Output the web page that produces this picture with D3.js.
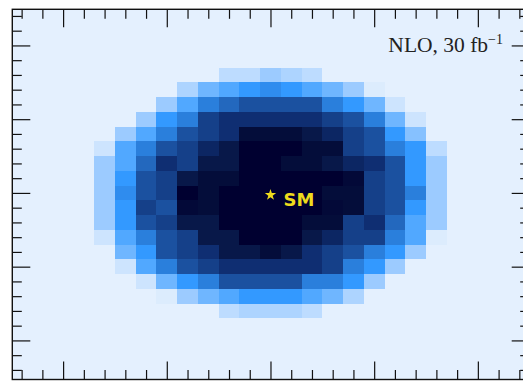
<!DOCTYPE html>
<html>
<head>
<meta charset="utf-8">
<script src="https://cdn.jsdelivr.net/npm/d3@7"></script>
<style>
  html, body { margin: 0; padding: 0; background: #ffffff; }
  svg { display: block; }
</style>
</head>
<body>
<svg id="chart" width="523" height="382"></svg>
<script>
// Bin centres of the 2D likelihood grid (bin width 0.2)
const xBins = [-1.6, -1.4, -1.2, -1.0, -0.8, -0.6, -0.4, -0.2, 0, 0.2, 0.4, 0.6, 0.8, 1.0, 1.2, 1.4, 1.6];
const yBins = [1.6, 1.4, 1.2, 1.0, 0.8, 0.6, 0.4, 0.2, 0, -0.2, -0.4, -0.6, -0.8, -1.0, -1.2, -1.4, -1.6];

// Density level per bin (rows follow yBins, columns follow xBins; 0 = empty)
const density = [
  [0, 0, 0, 0, 0, 0, 2, 2, 3, 2.5, 2, 0, 0, 0, 0, 0, 0],
  [0, 0, 0, 0, 2.5, 4, 4.5, 5, 5.5, 5, 4.5, 4, 3, 1, 0, 0, 0],
  [0, 0, 0, 3, 4.5, 6, 6.5, 7, 7, 7, 7, 6, 5, 4, 1.5, 0, 0],
  [0, 0, 3, 5, 6, 7.5, 8, 8, 8, 8, 8, 7.5, 7, 6, 4, 1.5, 0],
  [0, 3, 4.5, 6, 7, 7.5, 8, 9.3, 9.3, 9.3, 8.8, 8.3, 7.5, 7, 5, 3.5, 0],
  [1.5, 4.5, 6, 7, 7.5, 8.3, 8.8, 10, 10, 10, 9.3, 9.3, 7.5, 7, 6, 5, 2],
  [3, 4.5, 6.5, 8, 7.5, 8.8, 8.8, 10, 10, 9.3, 9.3, 8.8, 8.3, 8, 7, 5, 3],
  [3, 5, 7, 7.5, 8.8, 9.3, 9.3, 10, 10, 10, 10, 10, 9.5, 7.5, 7, 5, 3],
  [3, 5.5, 7, 7.5, 10, 9.3, 10, 10, 10, 10, 10, 9.3, 9.3, 7.5, 7, 6, 3],
  [3, 5, 7.5, 7, 9.5, 9.3, 10, 10, 10, 10, 10, 9.5, 9.3, 7.5, 7, 5, 3],
  [3, 5, 7, 7.5, 8.8, 8.8, 10, 10, 10, 10, 9.3, 9.3, 7.5, 8, 6.5, 4.5, 3],
  [1.5, 4.5, 6, 7, 7.5, 8.8, 8.8, 10, 10, 10, 8.8, 8.3, 7.5, 7.5, 6, 4.5, 1],
  [0, 4, 5, 7, 7.5, 8, 8.8, 8.8, 9.3, 8.8, 8, 7.5, 7, 6, 5, 3, 0],
  [0, 1.5, 4.5, 6, 7, 7.5, 8, 8, 8, 8, 8, 7.5, 6, 5, 3, 0, 0],
  [0, 0, 1.5, 4, 5, 6, 7, 7, 7, 7, 6, 6, 5, 3, 0, 0, 0],
  [0, 0, 0, 1, 3, 4, 4.5, 5, 5, 5, 4.5, 4, 2.5, 0, 0, 0, 0],
  [0, 0, 0, 0, 0, 0, 2, 2.5, 2.5, 2.5, 2, 0, 0, 0, 0, 0, 0]
];

// Colour ramp for the density levels
const levelStops = [1, 2, 3, 4, 5, 6, 7, 8, 9, 10];
const levelColors = ["#dcecfd", "#bddcff", "#9ccbff", "#6fb6ff", "#3399ff", "#2a7fdc",
                     "#1b51a0", "#0f2e72", "#06123f", "#000030"];

// Axis ticks
const majorTicks = [-2, -1, 0, 1, 2];
const minorTicks = [-2.4, -2.2, -1.8, -1.6, -1.4, -1.2, -0.8, -0.6, -0.4, -0.2,
                    0.2, 0.4, 0.6, 0.8, 1.2, 1.4, 1.6, 1.8, 2.2, 2.4];

// Standard Model point and annotation
const smPoint = { x: 0, y: 0, label: "SM" };
const annotationText = "NLO, 30 fb";
const annotationExp = "\u22121";

const svg = d3.select("#chart");
const x = d3.scaleLinear().domain([-2.49, 2.5]).range([12.3, 529.7]);
const y = d3.scaleLinear().domain([-2.53, 2.49]).range([379.5, 9.3]);
const color = d3.scaleLinear().domain(levelStops).range(levelColors).clamp(true);

const x0 = x.range()[0], x1 = x.range()[1];
const y0 = y.range()[1], y1 = y.range()[0];

// Plot background
svg.append("rect")
  .attr("x", x0).attr("y", y0)
  .attr("width", x1 - x0).attr("height", y1 - y0)
  .attr("fill", "#e4f0fe");

// Heatmap cells
const cells = [];
density.forEach((row, r) => row.forEach((v, c) => {
  if (v > 0) cells.push({ cx: xBins[c], cy: yBins[r], v });
}));
const half = 0.1;
svg.append("g")
  .attr("shape-rendering", "crispEdges")
  .selectAll("rect")
  .data(cells)
  .join("rect")
  .attr("x", d => x(d.cx - half))
  .attr("y", d => y(d.cy + half))
  .attr("width", d => x(d.cx + half) - x(d.cx - half))
  .attr("height", d => y(d.cy - half) - y(d.cy + half))
  .attr("fill", d => color(d.v));

// Inward ticks on all four sides
function addAxis(gen, transform, values, size) {
  const g = svg.append("g")
    .attr("transform", transform)
    .call(gen.tickValues(values).tickSize(size).tickFormat(""));
  g.select(".domain").remove();
  g.selectAll(".tick line").attr("stroke", "#111").attr("stroke-width", 1.2);
}
[[majorTicks, 18], [minorTicks, 9.5]].forEach(([vals, len]) => {
  addAxis(d3.axisBottom(x), `translate(0,${y1})`, vals, -len);
  addAxis(d3.axisTop(x), `translate(0,${y0})`, vals, -len);
  addAxis(d3.axisLeft(y), `translate(${x0},0)`, vals, -len);
  addAxis(d3.axisRight(y), `translate(${x1},0)`, vals, -len);
});

// Frame
svg.append("rect")
  .attr("x", x0).attr("y", y0)
  .attr("width", x1 - x0).attr("height", y1 - y0)
  .attr("fill", "none")
  .attr("stroke", "#111")
  .attr("stroke-width", 1.4);

// SM marker and label
svg.append("path")
  .attr("d", d3.symbol(d3.symbolStar, 40)())
  .attr("transform", `translate(${x(smPoint.x)},${y(smPoint.y) + 2})`)
  .attr("fill", "#eedb1c");
svg.append("text")
  .attr("x", x(smPoint.x) + 13)
  .attr("y", y(smPoint.y) + 13)
  .attr("font-family", "DejaVu Sans")
  .attr("font-size", 18)
  .attr("font-weight", "bold")
  .attr("fill", "#eedb1c")
  .text(smPoint.label);

// Luminosity annotation
const ann = svg.append("text")
  .attr("x", 503)
  .attr("y", 51.5)
  .attr("text-anchor", "end")
  .attr("font-family", "Liberation Serif")
  .attr("font-size", 21.5)
  .attr("fill", "#222");
ann.append("tspan").text(annotationText);
ann.append("tspan")
  .attr("dy", -8)
  .attr("font-size", 14)
  .text(annotationExp);
</script>
</body>
</html>
